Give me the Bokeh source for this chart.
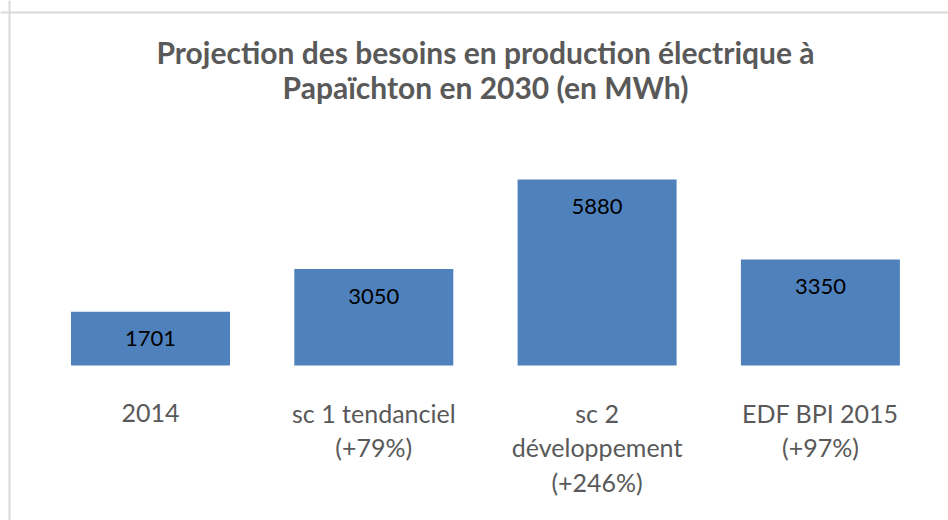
from bokeh.plotting import figure
from bokeh.models import Span, ColumnDataSource, Range1d
from bokeh.core.properties import value
from bokeh.embed import file_html
from bokeh.resources import INLINE

# ---- data ----
tick_labels = ["2014", "sc 1 tendanciel\n(+79%)", "sc 2\ndéveloppement\n(+246%)", "EDF BPI 2015\n(+97%)"]
values = [1701, 3050, 5880, 3350]
title_lines = ["Projection des besoins en production électrique à", "Papaïchton en 2030 (en MWh)"]

# ---- layout constants (pixels) ----
W, H = 948, 520
px_per_unit_y = 186 / 5880.0
base_px_from_top = 365
y_start = -(H - base_px_from_top) / px_per_unit_y
y_end = base_px_from_top / px_per_unit_y
px_per_cat = 223.3
first_center_px = 150
x_start = -first_center_px / px_per_cat
x_end = (W - first_center_px) / px_per_cat

p = figure(width=W, height=H, output_backend="svg", toolbar_location=None,
           x_axis_location=None, y_axis_location=None,
           min_border_left=0, min_border_right=0, min_border_top=0, min_border_bottom=0,
           x_range=Range1d(x_start, x_end), y_range=Range1d(y_start, y_end))
p.outline_line_color = None
p.grid.visible = False
p.background_fill_color = "white"
p.border_fill_color = "white"

idx = list(range(len(values)))
src = ColumnDataSource(dict(x=idx, top=values, lab=[str(v) for v in values]))
p.vbar(x="x", top="top", bottom=0, width=0.712, source=src,
       fill_color="#4F81BD", line_color=None)

p.text(x="x", y="top", text="lab", source=src, y_offset=27,
       text_align="center", text_baseline="middle",
       text_font=value("Lato"), text_font_size="22px", text_color="#000000")

# category labels, one row per line
cx, cl, co = [], [], []
for i, lab in enumerate(tick_labels):
    for j, line in enumerate(lab.split("\n")):
        cx.append(i)
        cl.append(line)
        co.append(47 + 34.5 * j)
csrc = ColumnDataSource(dict(x=cx, y=[0] * len(cx), t=cl, off=co))
p.text(x="x", y="y", text="t", y_offset="off", source=csrc,
       text_align="center", text_baseline="middle",
       text_font=value("Lato"), text_font_size="25px", text_color="#595959")

# title
tx = x_start + 485 / px_per_cat
for j, line in enumerate(title_lines):
    p.text(x=[tx], y=[y_end], text=[line], y_offset=51 + 35 * j,
           text_align="center", text_baseline="alphabetic",
           text_font=value("Lato"), text_font_style="bold", text_font_size="30px",
           text_color="#595959")

# chart-area border (left and top edges visible)
p.add_layout(Span(location=x_start + 9.0 / px_per_cat, dimension="height",
                  line_color="#D9D9D9", line_width=2))
p.add_layout(Span(location=y_end - 12.0 / px_per_unit_y, dimension="width",
                  line_color="#D9D9D9", line_width=2))

open("out.html", "w").write(file_html(p, INLINE))
